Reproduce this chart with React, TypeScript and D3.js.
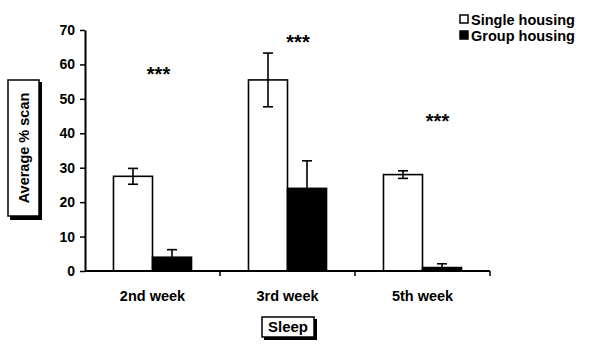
import React, { useRef, useEffect } from 'react';
import * as d3 from 'd3';

// chart values
const categories = ['2nd week', '3rd week', '5th week'];
const seriesNames = ['Single housing', 'Group housing'];
const singleValues = [27.5, 55.5, 28];
const singleErrors = [2.3, 7.8, 1.1];
const groupValues = [4, 24, 1];
const groupErrors = [2.2, 8, 1.1];
const starLevels = [58.3, 67.6, 44.7];
const yTicks = [0, 10, 20, 30, 40, 50, 60, 70];

const W = 592;
const H = 349;
const margin = { top: 30, right: 102, bottom: 78, left: 85 };
const font = '"Liberation Sans", Arial, sans-serif';

const App = () => {
    const ref = useRef<SVGGElement>(null);

    const plotW = W - margin.left - margin.right;
    const plotH = H - margin.top - margin.bottom;

    const x = d3.scaleBand().domain(categories).range([0, plotW]).paddingInner(0).paddingOuter(0);
    const x1 = d3.scaleBand().domain(seriesNames).range([0, x.bandwidth()]).paddingInner(0).paddingOuter(0.73);
    const y = d3.scaleLinear().domain([0, 70]).range([plotH, 0]);

    useEffect(() => {
        const g = d3.select(ref.current);
        g.selectAll('*').remove();

        const data = categories.map((c, i) => ({
            cat: c,
            items: [
                { s: seriesNames[0], v: singleValues[i], e: singleErrors[i], fill: '#fff' },
                { s: seriesNames[1], v: groupValues[i], e: groupErrors[i], fill: '#000' },
            ],
        }));

        // bars
        const groups = g.selectAll('.grp').data(data).enter().append('g')
            .attr('class', 'grp')
            .attr('transform', (d) => `translate(${x(d.cat)},0)`);

        groups.selectAll('rect').data((d) => d.items).enter().append('rect')
            .attr('x', (d) => x1(d.s)!)
            .attr('y', (d) => y(d.v))
            .attr('width', x1.bandwidth())
            .attr('height', (d) => plotH - y(d.v))
            .attr('fill', (d) => d.fill)
            .attr('stroke', '#000')
            .attr('stroke-width', 1.6);

        // error bars (lower half hidden inside the black bars anyway)
        const err = groups.selectAll('.err').data((d) => d.items).enter().append('g').attr('class', 'err');
        err.append('line')
            .attr('x1', (d) => x1(d.s)! + x1.bandwidth() / 2)
            .attr('x2', (d) => x1(d.s)! + x1.bandwidth() / 2)
            .attr('y1', (d) => y(d.v + d.e))
            .attr('y2', (d) => y(Math.max(0, d.v - d.e)))
            .attr('stroke', '#000').attr('stroke-width', 1.6);
        ['+', '-'].forEach((sgn) => {
            err.append('line')
                .attr('x1', (d) => x1(d.s)! + x1.bandwidth() / 2 - 5)
                .attr('x2', (d) => x1(d.s)! + x1.bandwidth() / 2 + 5)
                .attr('y1', (d) => y(sgn === '+' ? d.v + d.e : Math.max(0, d.v - d.e)))
                .attr('y2', (d) => y(sgn === '+' ? d.v + d.e : Math.max(0, d.v - d.e)))
                .attr('stroke', '#000').attr('stroke-width', 1.6);
        });

        // significance stars
        g.selectAll('.star').data(categories).enter().append('text')
            .attr('class', 'star')
            .attr('x', (d, i) => x(d)! + x.bandwidth() / 2 + 6 + i * 4.5)
            .attr('y', (d, i) => y(starLevels[i]) + 11)
            .attr('text-anchor', 'middle')
            .style('font-family', font).style('font-weight', 'bold').style('font-size', '20px')
            .text('***');

        // y axis
        const ya = g.append('g')
            .call(d3.axisLeft(y).tickValues(yTicks).tickSize(5).tickSizeOuter(0).tickPadding(5));
        ya.select('.domain').attr('stroke-width', 2);
        ya.selectAll('line').attr('stroke-width', 1.5);
        ya.selectAll('text').style('font-family', font).style('font-weight', 'bold').style('font-size', '14px');

        // x axis with boundary ticks
        const xa = g.append('g').attr('transform', `translate(0,${plotH})`);
        xa.append('line').attr('x1', 0).attr('x2', plotW).attr('y1', 0).attr('y2', 0)
            .attr('stroke', '#000').attr('stroke-width', 2);
        xa.selectAll('.bt').data(categories).enter().append('line')
            .attr('x1', (d) => x(d)! + x.bandwidth()).attr('x2', (d) => x(d)! + x.bandwidth())
            .attr('y1', 0).attr('y2', 5).attr('stroke', '#000').attr('stroke-width', 1.5);
        xa.selectAll('.cl').data(categories).enter().append('text')
            .attr('x', (d) => x(d)! + x.bandwidth() / 2)
            .attr('y', 30)
            .attr('text-anchor', 'middle')
            .style('font-family', font).style('font-weight', 'bold').style('font-size', '14.5px')
            .text((d) => d);
    }, []);

    return (
        <svg width={W} height={H} style={{ position: 'absolute', left: 0, top: 0, background: '#fff' }}>
            <g ref={ref} transform={`translate(${margin.left},${margin.top})`}></g>

            {/* y axis title box */}
            <rect x={10} y={82} width={32} height={138} fill="#000" />
            <rect x={8} y={80} width={31} height={136} fill="#fff" stroke="#000" strokeWidth={1.5} />
            <text transform="translate(29,148) rotate(-90)" textAnchor="middle"
                style={{ fontFamily: font, fontWeight: 'bold', fontSize: '14.5px' }}>Average % scan</text>

            {/* x axis title box */}
            <rect x={264} y={319} width={53} height={21} fill="#000" />
            <rect x={262} y={317} width={52} height={20} fill="#fff" stroke="#000" strokeWidth={1.5} />
            <text x={288} y={332} textAnchor="middle"
                style={{ fontFamily: font, fontWeight: 'bold', fontSize: '15px' }}>Sleep</text>

            {/* legend */}
            {seriesNames.map((s, i) => (
                <g key={s} transform={`translate(460,${15 + i * 16})`}>
                    <rect x={0} y={0} width={8} height={8} fill={i === 0 ? '#fff' : '#000'} stroke="#000" strokeWidth={1.5} />
                    <text x={11} y={10} style={{ fontFamily: font, fontWeight: 'bold', fontSize: '14.5px' }}>{s}</text>
                </g>
            ))}
        </svg>
    );
};

export default App;
